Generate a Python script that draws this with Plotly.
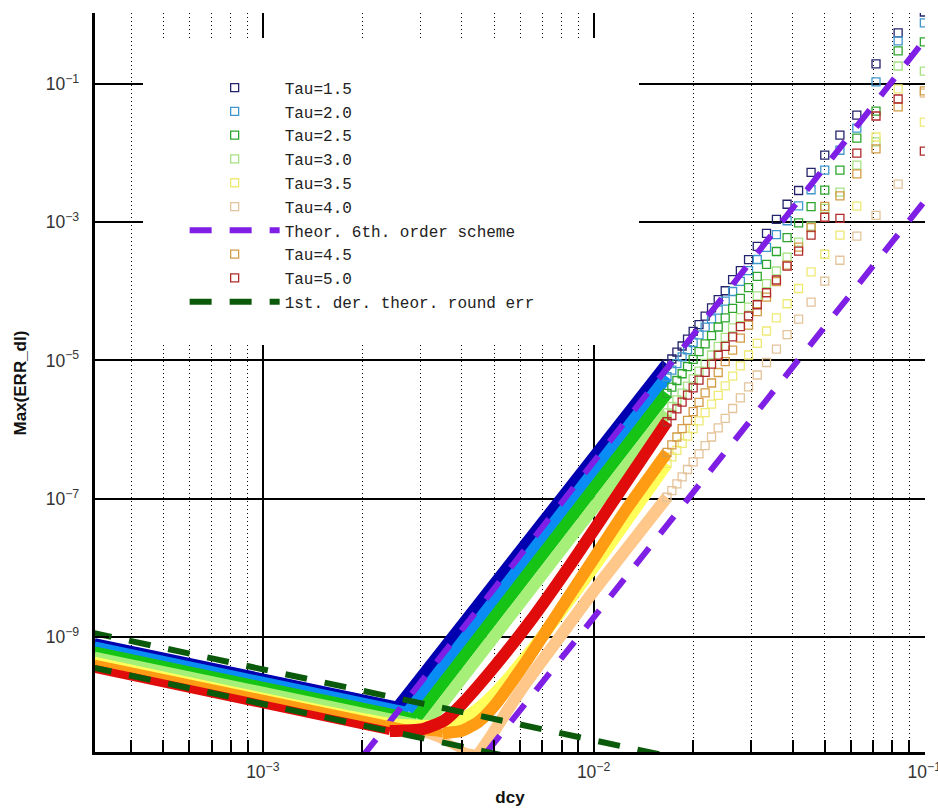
import plotly.graph_objects as go

# ---- grid spacings of the coarse runs (dcy = 1/N, N = 10, 12, ..., 60) ----
DCY_COARSE = [0.1, 0.08333, 0.07143, 0.0625, 0.05556, 0.05, 0.04545, 0.04167, 0.03846, 0.03571,
              0.03333, 0.03125, 0.02941, 0.02778, 0.02632, 0.025, 0.02381, 0.02273, 0.02174, 0.02083,
              0.02, 0.01923, 0.01852, 0.01786, 0.01724, 0.01667]

# ---- max derivative error on the coarse runs ----
ERR_TAU15 = [1.10, 0.550, 0.195, 0.0355, 0.0182, 9.33e-3, 5.25e-3, 2.88e-3, 1.82e-3, 1.10e-3,
             6.92e-4, 4.47e-4, 2.88e-4, 2.00e-4, 1.48e-4, 1.02e-4, 7.59e-5, 5.75e-5, 4.37e-5, 3.31e-5,
             2.63e-5, 2.04e-5, 1.62e-5, 1.32e-5, 1.05e-5, 8.91e-6]
ERR_TAU20 = [0.766, 0.420, 0.107, 0.0230, 0.0110, 5.68e-3, 2.95e-3, 1.72e-3, 1.05e-3, 6.61e-4,
             4.32e-4, 2.89e-4, 1.99e-4, 1.39e-4, 9.95e-5, 7.24e-5, 5.36e-5, 4.01e-5, 3.04e-5, 2.34e-5,
             1.82e-5, 1.43e-5, 1.13e-5, 9.00e-6, 7.24e-6, 5.86e-6]
ERR_TAU25 = [0.406, 0.301, 0.0406, 0.0165, 5.68e-3, 2.91e-3, 1.68e-3, 9.82e-4, 5.97e-4, 3.77e-4,
             2.46e-4, 1.65e-4, 1.13e-4, 7.94e-5, 5.68e-5, 4.13e-5, 3.05e-5, 2.29e-5, 1.74e-5, 1.34e-5,
             1.04e-5, 8.13e-6, 6.43e-6, 5.13e-6, 4.13e-6, 3.34e-6]
ERR_TAU30 = [0.154, 0.182, 0.0145, 6.70e-3, 2.72e-3, 1.59e-3, 8.81e-4, 5.14e-4, 3.13e-4, 1.97e-4,
             1.29e-4, 8.63e-5, 5.93e-5, 4.16e-5, 2.97e-5, 2.16e-5, 1.60e-5, 1.20e-5, 9.10e-6, 7.00e-6,
             5.42e-6, 4.26e-6, 3.37e-6, 2.69e-6, 2.16e-6, 1.75e-6]
ERR_TAU35 = [0.0281, 0.0847, 0.0171, 1.71e-3, 6.49e-4, 3.44e-4, 1.91e-4, 1.10e-4, 6.62e-5, 4.13e-5,
             2.67e-5, 1.77e-5, 1.20e-5, 8.36e-6, 5.92e-6, 4.28e-6, 3.13e-6, 2.33e-6, 1.76e-6, 1.34e-6,
             1.03e-6, 8.05e-7, 6.34e-7, 5.02e-7, 4.03e-7, 3.24e-7]
ERR_TAU40 = [0.0741, 3.56e-3, 1.26e-3, 6.31e-4, 2.82e-4, 1.41e-4, 6.98e-5, 3.97e-5, 2.37e-5, 1.46e-5,
             9.35e-6, 6.17e-6, 4.16e-6, 2.87e-6, 2.02e-6, 1.45e-6, 1.06e-6, 7.82e-7, 5.86e-7, 4.46e-7,
             3.41e-7, 2.65e-7, 2.07e-7, 1.64e-7, 1.31e-7, 1.05e-7]
ERR_TAU45 = [0.0794, 0.0468, 0.0115, 5.01e-3, 2.40e-3, 1.70e-3, 8.34e-4, 4.36e-4, 2.39e-4, 1.38e-4,
             8.24e-5, 5.09e-5, 3.24e-5, 2.11e-5, 1.41e-5, 9.62e-6, 6.70e-6, 4.72e-6, 3.40e-6, 2.47e-6,
             1.82e-6, 1.36e-6, 1.03e-6, 7.82e-7, 6.03e-7, 4.68e-7]
ERR_TAU50 = [0.0107, 0.0607, 0.0344, 0.0100, 1.14e-3, 1.18e-3, 6.53e-4, 3.81e-4, 2.32e-4, 1.46e-4,
             9.55e-5, 6.40e-5, 4.40e-5, 3.08e-5, 2.20e-5, 1.60e-5, 1.19e-5, 8.87e-6, 6.75e-6, 5.19e-6,
             4.02e-6, 3.16e-6, 2.49e-6, 1.99e-6, 1.60e-6, 1.30e-6]

# ---- fine runs (dcy < 1/60): points are packed so densely they merge into bands ----
FINE_DCY_TAU15 = [3.1e-4, 2.58e-3, 1.667e-2]
FINE_ERR_TAU15 = [8.41e-10, 1.01e-10, 8.91e-6]
FINE_DCY_TAU20 = [3.1e-4, 2.76e-3, 1.667e-2]
FINE_ERR_TAU20 = [7.52e-10, 8.43e-11, 5.86e-6]
FINE_DCY_TAU25 = [3.1e-4, 2.915e-3, 1.667e-2]
FINE_ERR_TAU25 = [6.37e-10, 6.76e-11, 3.34e-6]
FINE_DCY_TAU30 = [3.1e-4, 3.114e-3, 1.667e-2]
FINE_ERR_TAU30 = [5.38e-10, 5.35e-11, 1.75e-6]
FINE_DCY_TAU35 = [3.1e-4, 2.5e-3, 3.5e-3, 4.0e-3, 4.5e-3, 5.0e-3, 6.3e-3, 1.0e-2, 1.667e-2]
FINE_ERR_TAU35 = [4.56e-10, 5.83e-11, 5.50e-11, 6.60e-11, 9.40e-11, 1.50e-10, 5.42e-10, 1.02e-8, 3.24e-7]
FINE_DCY_TAU40 = [3.1e-4, 2.5e-3, 3.2e-3, 3.7e-3, 4.1e-3, 4.5e-3, 4.9e-3, 5.5e-3, 6.3e-3, 7.9e-3,
                  1.0e-2, 1.26e-2, 1.667e-2]
FINE_ERR_TAU40 = [3.97e-10, 4.92e-11, 3.80e-11, 2.82e-11, 2.19e-11, 2.04e-11, 3.70e-11, 8.80e-11,
                  2.30e-10, 1.00e-9, 4.60e-9, 1.90e-8, 1.05e-7]
FINE_DCY_TAU45 = [3.1e-4, 2.5e-3, 3.0e-3, 3.5e-3, 4.0e-3, 4.5e-3, 5.0e-3, 6.3e-3, 7.9e-3, 1.0e-2,
                  1.26e-2, 1.667e-2]
FINE_ERR_TAU45 = [4.11e-10, 5.13e-11, 4.38e-11, 4.06e-11, 4.40e-11, 6.00e-11, 1.00e-10, 4.68e-10,
                  2.44e-9, 1.35e-8, 7.20e-8, 4.68e-7]
FINE_DCY_TAU50 = [3.1e-4, 2.42e-3, 3.04e-3, 3.55e-3, 4.02e-3, 5.09e-3, 6.41e-3, 8.46e-3, 1.198e-2, 1.667e-2]
FINE_ERR_TAU50 = [3.45e-10, 4.35e-11, 4.65e-11, 6.27e-11, 1.10e-10, 4.06e-10, 1.65e-9, 1.07e-8,
                  1.26e-7, 1.30e-6]

# ---- theoretical estimates (two branches each) ----
THEOR6_DCY = [2.0e-3, 0.1, None, 3.98e-3, 0.1]
THEOR6_ERR = [1.86e-11, 0.43, None, 7.4e-12, 2.0e-3]
ROUND_DCY = [3.0e-4, 1.6e-2, None, 3.0e-4, 5.5e-3]
ROUND_ERR = [1.17e-9, 1.98e-11, None, 3.69e-10, 1.87e-11]

# name, coarse errors, fine knots, marker colour, band colour, smooth band
SERIES = [
    ("Tau=1.5", ERR_TAU15, FINE_DCY_TAU15, FINE_ERR_TAU15, "#24246e", "#0000b0", False),
    ("Tau=2.0", ERR_TAU20, FINE_DCY_TAU20, FINE_ERR_TAU20, "#3f96cc", "#0a8cf5", False),
    ("Tau=2.5", ERR_TAU25, FINE_DCY_TAU25, FINE_ERR_TAU25, "#2ea62e", "#16c416", False),
    ("Tau=3.0", ERR_TAU30, FINE_DCY_TAU30, FINE_ERR_TAU30, "#a6e284", "#a6f07a", False),
    ("Tau=3.5", ERR_TAU35, FINE_DCY_TAU35, FINE_ERR_TAU35, "#eeea74", "#ffff5a", True),
    ("Tau=4.0", ERR_TAU40, FINE_DCY_TAU40, FINE_ERR_TAU40, "#e4c49a", "#ffc88a", True),
    ("Tau=4.5", ERR_TAU45, FINE_DCY_TAU45, FINE_ERR_TAU45, "#d49c46", "#ff9c14", True),
    ("Tau=5.0", ERR_TAU50, FINE_DCY_TAU50, FINE_ERR_TAU50, "#b02a2a", "#e00c0c", True),
]

fig = go.Figure()


def add_series(name, err, fine_dcy, fine_err, mcolor, bcolor, smooth):
    # the packed squares sweep a thinner band on the flat branch than on the steep one
    k = fine_err.index(min(fine_err))
    shape = "spline" if smooth else "linear"
    for xs, ys, w in ((fine_dcy[:k + 1], fine_err[:k + 1], 8), (fine_dcy[k:], fine_err[k:], 12)):
        fig.add_trace(go.Scatter(
            x=xs, y=ys, mode="lines", showlegend=False, hoverinfo="skip",
            line=dict(color=bcolor, width=w, shape=shape, smoothing=0.6),
        ))
    fig.add_trace(go.Scatter(
        x=DCY_COARSE, y=err, mode="markers", name=name,
        marker=dict(symbol="square-open", size=8, color=mcolor, line=dict(width=1.3, color=mcolor)),
    ))


for s in SERIES[:6]:
    add_series(*s)

fig.add_trace(go.Scatter(
    x=THEOR6_DCY, y=THEOR6_ERR, mode="lines", name="Theor. 6th. order scheme",
    line=dict(color="#7f1fe6", width=6, dash="22px,18px"), connectgaps=False,
))

for s in SERIES[6:]:
    add_series(*s)

fig.add_trace(go.Scatter(
    x=ROUND_DCY, y=ROUND_ERR, mode="lines", name="1st. der. theor. round err",
    line=dict(color="#0b5a0b", width=6, dash="22px,18px"), connectgaps=False,
))

tickfont = dict(family="Liberation Sans, Arial", size=14, color="#333333")
titlefont = dict(family="Liberation Sans, Arial", size=17, color="#111111")

fig.update_xaxes(
    type="log", range=[-3.5075, -0.998], dtick=1, exponentformat="power",
    showline=True, linewidth=3, linecolor="black", mirror=False,
    ticks="inside", ticklen=12, tickwidth=2, tickcolor="black",
    showgrid=True, gridcolor="black", gridwidth=1.6, zeroline=False,
    tickfont=tickfont, ticklabelstandoff=3, ticklabeloverflow="allow", automargin=False,
    minor=dict(ticks="inside", ticklen=12, tickwidth=1.5, tickcolor="black", dtick="D1",
               showgrid=True, gridcolor="black", gridwidth=1, griddash="1px,3px"),
    title=dict(text="<b>dcy</b>", font=titlefont, standoff=10),
)
fig.update_yaxes(
    type="log", range=[-10.664, 0.027], tick0=1, dtick=2, exponentformat="power",
    showline=True, linewidth=3, linecolor="black", mirror=False,
    ticks="inside", ticklen=14, tickwidth=2, tickcolor="black",
    showgrid=True, gridcolor="black", gridwidth=1.6, zeroline=False,
    tickfont=tickfont, ticklabelstandoff=10, automargin=False,
)

# y-axis title, set close to the page edge
fig.add_annotation(
    text="<b>Max(ERR_dl)</b>", textangle=-90, xref="paper", yref="paper",
    x=-0.0892, y=0.5, xanchor="center", yanchor="middle", showarrow=False, font=titlefont,
)

# white panel behind the legend
fig.add_shape(type="rect", xref="paper", yref="paper", x0=0.0578, x1=0.6554, y0=0.5507, y1=0.9662,
              fillcolor="white", line=dict(width=0), layer="above")

fig.update_layout(
    width=938, height=810,
    margin=dict(l=95, r=13, t=13, b=58, autoexpand=False),
    paper_bgcolor="white", plot_bgcolor="white",
    showlegend=True,
    legend=dict(
        x=0.108, y=0.922, xanchor="left", yanchor="top",
        bgcolor="rgba(255,255,255,0)", borderwidth=0,
        font=dict(family="Liberation Mono, Courier New, monospace", size=16, color="#222222"),
        itemwidth=90, tracegroupgap=0,
    ),
)

fig.write_html("out.html")
